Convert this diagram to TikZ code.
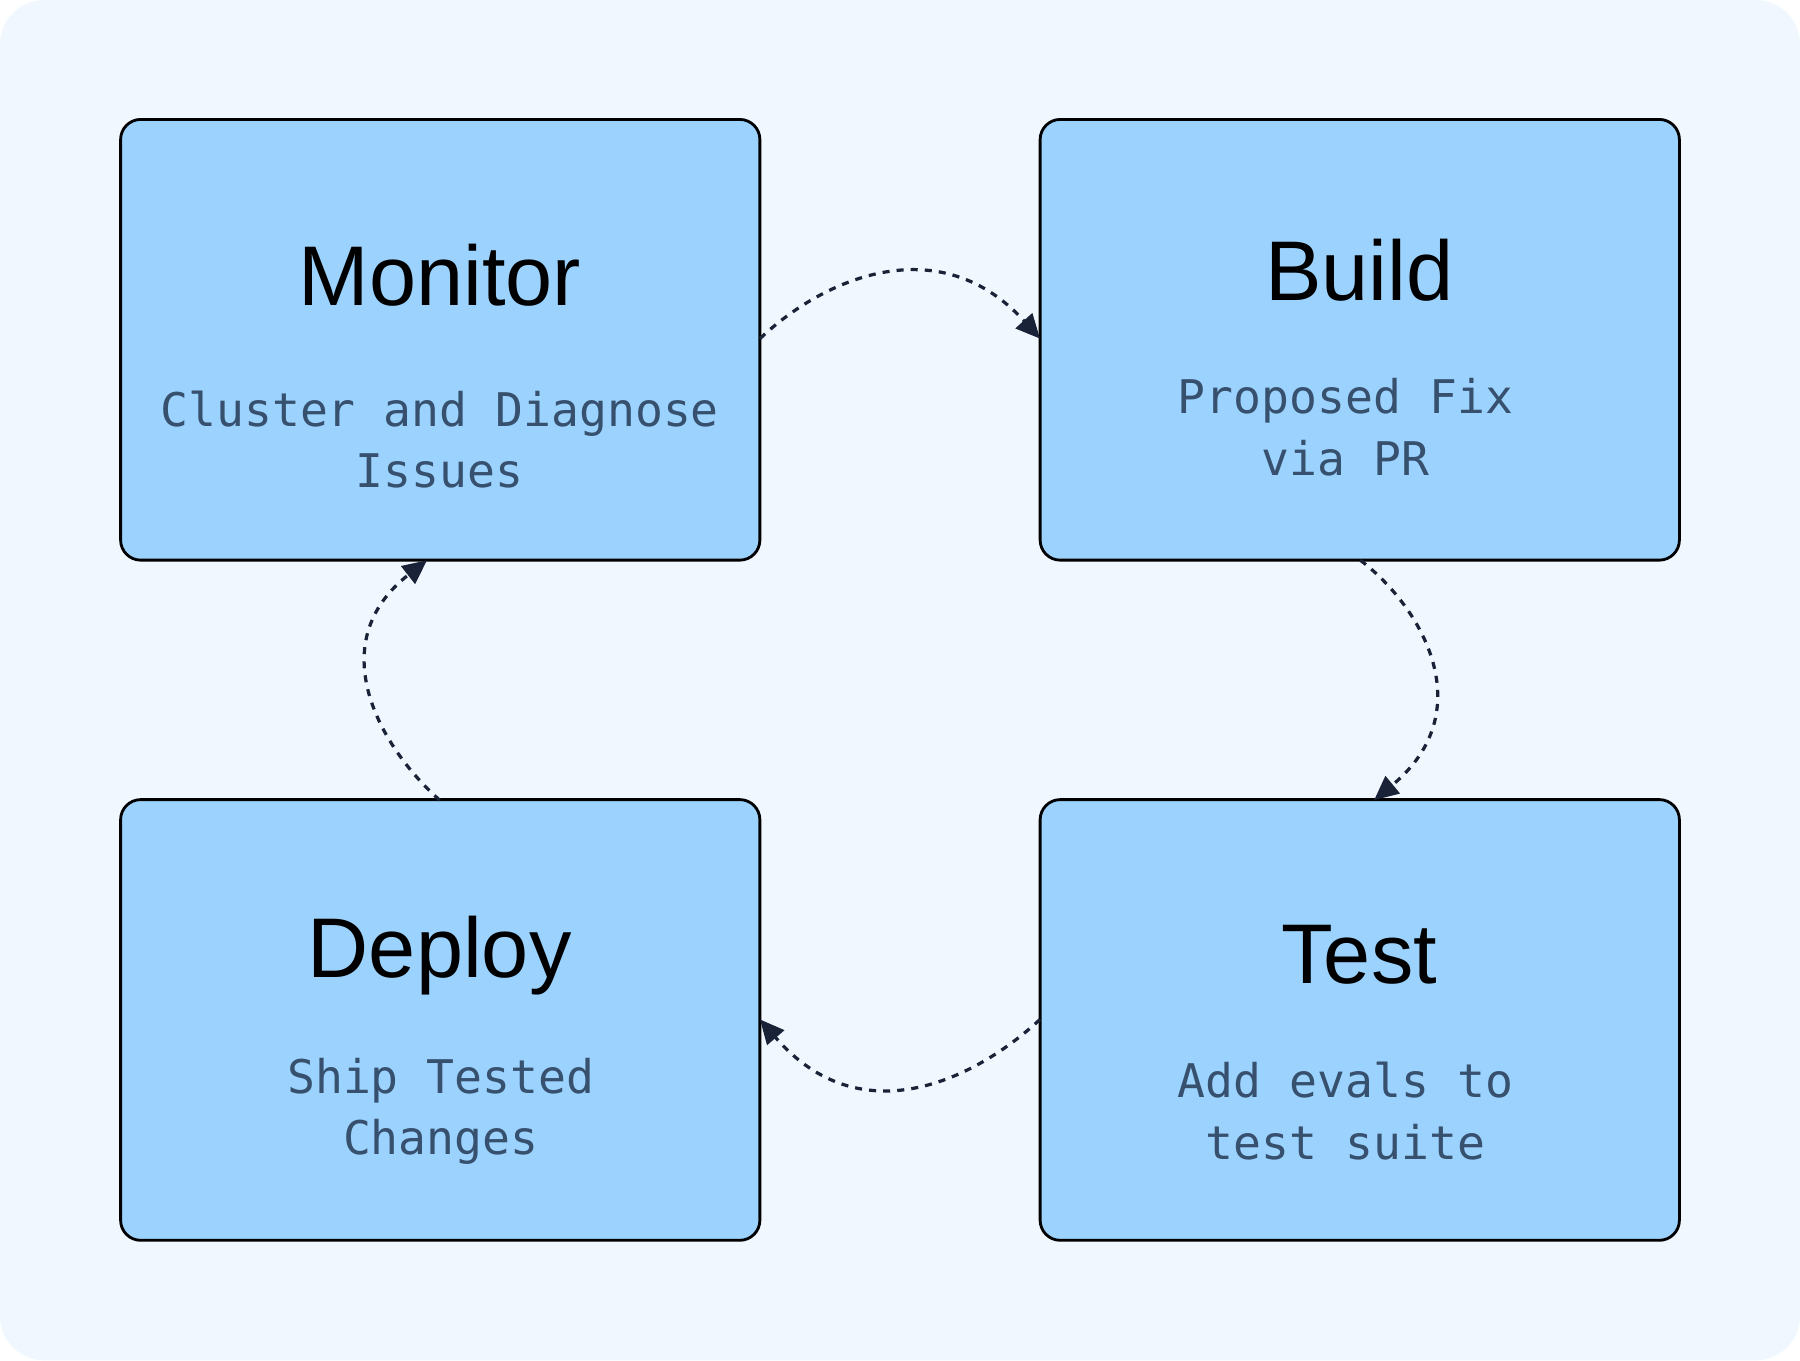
\documentclass[tikz,border=0pt]{standalone}
\usepackage{fontspec}
\setmainfont{Liberation Sans}
\newfontfamily\monof{DejaVu Sans Mono}
\usetikzlibrary{arrows.meta}
\definecolor{bgc}{HTML}{F0F7FE}
\definecolor{boxc}{HTML}{9CD3FE}
\definecolor{subc}{HTML}{36506E}
\definecolor{arrc}{HTML}{1A2238}
\begin{document}
\begin{tikzpicture}[x=0.02cm,y=-0.02cm,
  box/.style={draw=black,line width=1.4pt,fill=boxc,rounded corners=10pt,minimum width=11.14cm,minimum height=7.68cm,inner sep=0},
  ttl/.style={font=\fontsize{42}{48}\selectfont,text=black},
  sub/.style={font=\monof\fontsize{23}{30.5}\selectfont,text=subc,align=center},
  flow/.style={draw=arrc,line width=1.6pt,dash pattern=on 3.5pt off 3.5pt,-{Triangle[length=12pt,width=11pt]}}]
\useasboundingbox (0,0) rectangle (1568,1185);
\fill[bgc,rounded corners=22pt] (0,0) rectangle (1568,1185);
\node[box] (m) at (383.5,296) {};
\node[box] (b) at (1184.5,296) {};
\node[box] (d) at (383.5,888.5) {};
\node[box] (t) at (1184.5,888.5) {};
\node[ttl] (mt) at (383,240) {Monitor};
\node[ttl] (bt) at (1184,235) {Build};
\node[ttl] (dt) at (383,832) {Deploy};
\node[ttl] (tt) at (1184,832) {Test};
\node[sub] (ms) at (383,383) {Cluster and Diagnose\\Issues};
\node[sub] (bs) at (1172,372) {Proposed Fix\\ via PR};
\node[sub] (ds) at (384,968) {Ship Tested\\Changes};
\node[sub] (ts) at (1172,968) {Add evals to\\ test suite};
\coordinate (m1) at (662,295);
\coordinate (b1) at (906,295);
\coordinate (b2) at (1185,488);
\coordinate (t2) at (1197,697);
\coordinate (t3) at (906,888);
\coordinate (d3) at (662,888);
\coordinate (d4) at (383,697);
\coordinate (m4) at (372,488);
\draw[flow] (m1) .. controls (720,240) and (820,200) .. (b1);
\draw[flow] (b2) .. controls (1240,530) and (1290,620) .. (t2);
\draw[flow] (t3) .. controls (850,940) and (750,990) .. (d3);
\draw[flow] (d4) .. controls (330,650) and (280,560) .. (m4);
\end{tikzpicture}
\end{document}
